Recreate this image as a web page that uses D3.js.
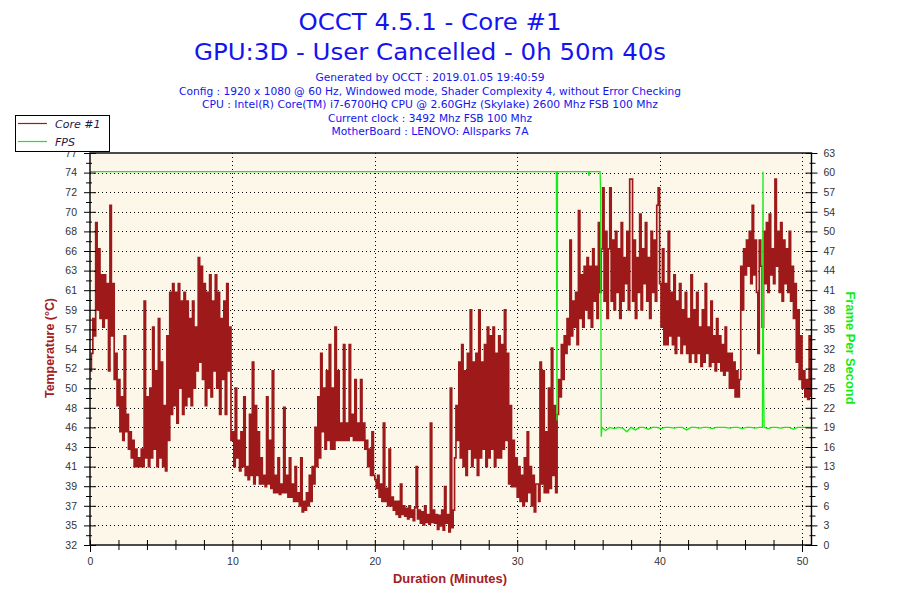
<!DOCTYPE html>
<html>
<head>
<meta charset="utf-8">
<script src="https://cdn.jsdelivr.net/npm/d3@7"></script>
<style>
  body { margin: 0; background: #fff; }
</style>
</head>
<body>
<div id="chart"></div>
<script>
// header text
const titleLines = ['OCCT 4.5.1 - Core #1', 'GPU:3D - User Cancelled - 0h 50m 40s']
const infoLines = [
    'Generated by OCCT : 2019.01.05 19:40:59',
    'Config : 1920 x 1080 @ 60 Hz, Windowed mode, Shader Complexity 4, without Error Checking',
    'CPU : Intel(R) Core(TM) i7-6700HQ CPU @ 2.60GHz (Skylake) 2600 Mhz FSB 100 Mhz',
    'Current clock : 3492 Mhz FSB 100 Mhz',
    'MotherBoard : LENOVO: Allsparks 7A'
]
const legendNames = ['Core #1', 'FPS']

// axes
const tempRange = [32, 77]
const fpsRange = [0, 63]
const testMinutes = 50 + 40 / 60
const tempTickLabels = [32, 35, 37, 39, 41, 43, 46, 48, 50, 52, 54, 57, 59, 61, 63, 66, 68, 70, 72, 74, 77]
const fpsTickLabels = [0, 3, 6, 9, 13, 16, 19, 22, 25, 28, 32, 35, 38, 41, 44, 47, 50, 54, 57, 60, 63]
const minuteTicks = [0, 10, 20, 30, 40, 50]

// Core #1 temperature, one sample every 0.1 minute
const sampleStep = 0.1
const coreTemp = [
    52, 54, 58, 56, 69, 59, 66, 58, 63, 57,
    63, 58, 62, 52, 71, 56, 62, 51, 54, 48,
    51, 45, 49, 44, 56, 45, 47, 43, 45, 42,
    44, 41, 43, 41, 42, 41, 43, 41, 60, 42,
    49, 41, 50, 42, 57, 43, 52, 41, 58, 42,
    53, 41, 48, 40.5, 56, 44, 61, 47, 62, 48,
    61, 46, 62, 50, 60, 47, 61, 48, 60, 49,
    58, 48, 60, 50, 57, 52, 65, 53, 64, 51,
    62, 48, 61, 50, 63, 49, 60, 52, 63, 50,
    61, 47, 58, 51, 60, 47, 62, 52, 57, 44,
    45, 41, 50, 42, 44, 40.5, 45, 41, 49, 40,
    41, 39.5, 47, 40, 53, 39, 48, 40, 45, 39,
    42, 39, 40, 38.7, 49, 39, 44, 38.5, 52, 38,
    40, 38, 42, 37.8, 39, 38, 47.8, 38, 40, 37.5,
    42, 37.5, 39, 37, 41, 37, 38, 36.5, 42, 35.8,
    37, 36, 38, 36.5, 40, 37, 41, 39, 45.5, 41,
    49, 42, 54, 45, 50, 43, 52, 44, 55, 43,
    50, 43, 57, 44, 52, 44, 46, 44, 55, 44,
    46, 44, 55, 44.5, 47, 44, 51, 44, 46, 44,
    51, 44, 46, 43, 44, 41, 43, 40, 45, 40,
    39.5, 38.5, 40, 37.5, 39, 37, 46, 37, 38.5, 36.5,
    43, 36.5, 37.5, 36, 37, 35.5, 37, 35.2, 39, 35.5,
    36.5, 35.3, 36.2, 35, 36.5, 35.2, 36, 34.8, 36.3, 41,
    35, 36, 34.5, 35.8, 34.3, 36.5, 34.6, 35.5, 34.4, 46,
    34.6, 36, 34.5, 35.5, 33.8, 35.4, 34.2, 36, 33.7, 38.7,
    34.5, 35.5, 33.5, 50, 34, 36, 42, 48, 44, 53,
    42, 55, 41, 52, 40, 54, 43, 59, 41, 53,
    42, 54, 40, 59, 42, 53, 43, 55, 41, 57,
    42, 56, 43, 57, 41, 54, 42, 56, 42, 55,
    43, 59, 44, 54, 39, 48, 38.7, 44, 38.7, 42,
    37.5, 41, 37, 40, 36.5, 42, 37, 45, 38, 41,
    36.5, 40, 35.8, 39, 39, 37, 53, 39, 52, 38,
    45, 38, 50, 38.5, 54.6, 40, 48, 38, 47, 51,
    49, 55, 51, 56, 54, 58, 55, 67, 56, 60,
    57, 61, 55, 70.4, 58, 63, 57, 64, 59, 65,
    58, 64, 57, 66, 60, 64, 58, 69, 61, 66,
    73, 60, 68, 58, 66, 73, 60, 67, 59, 68,
    61, 66, 58, 69, 60, 65, 62, 68, 59, 74,
    74, 60, 67, 58, 65, 61, 70, 59, 66, 62,
    69, 60, 65, 58, 68, 61, 67, 60, 71, 73,
    62, 57, 66, 55, 62, 55, 68, 56, 61, 55,
    63, 54, 60, 56, 62, 54, 59, 55, 61, 54,
    58, 53, 63, 54, 59, 53, 61, 54, 57, 52.5,
    59, 53, 62, 54, 57, 52.5, 60, 53, 56, 52,
    58, 53, 56, 52, 55, 51.5, 57, 52, 54, 50,
    54, 50, 53, 49, 52, 49, 51, 64, 59, 66,
    63, 67, 64, 68, 62, 71, 63, 67, 61, 54,
    67, 64, 57, 68, 62, 69, 61, 70, 63, 66,
    62, 74, 64, 68, 61, 69, 60, 67, 62, 66,
    61, 68, 60, 64, 58, 62, 53, 59, 51, 56,
    50, 52, 49, 51, 48.7, 56, 49
]

// FPS samples (minute, frames per second)
const fpsMinutes = [
    0, 32.75, 32.79, 32.83, 35.0, 35.04, 35.08, 35.82, 35.86, 35.9, 35.95,
    36.2, 36.5, 36.8, 37.1, 37.4, 37.7, 38.0, 38.3, 38.6, 38.9,
    39.2, 39.5, 39.8, 40.1, 40.4, 40.7, 41.0, 41.3, 41.6, 41.9,
    42.2, 42.5, 42.8, 43.1, 43.4, 43.7, 44.0, 44.3, 44.6, 44.9,
    45.2, 45.5, 45.8, 46.1, 46.4, 46.7, 47.0,
    47.22, 47.26, 47.3, 47.34,
    47.6, 47.9, 48.2, 48.5, 48.8, 49.1, 49.4, 49.7, 50.0, 50.3, 50.67
]
const fpsValues = [
    60, 60, 20, 60, 60, 59.3, 60, 60, 56.4, 17.4, 18.9,
    18.4, 18.9, 18.7, 18.9, 18.8, 18.2, 18.9, 18.5, 18.9, 18.9,
    18.6, 18.9, 18.9, 18.7, 18.9, 18.9, 18.8, 18.9, 18.9, 18.5,
    18.9, 18.9, 18.8, 18.9, 18.9, 18.7, 18.9, 18.9, 18.9, 18.8,
    18.9, 18.9, 18.7, 18.9, 18.9, 18.8, 18.9,
    18.9, 60, 27, 18.9,
    18.7, 18.9, 18.9, 18.8, 18.9, 18.9, 18.6, 18.9, 18.9, 18.9, 18.9
]

const tempColor = '#9e1a1a'
const fpsColor = '#14ec14'

let OcctChart = function (id) {
    this.id = id
    this.svgWidth = 900
    this.svgHeight = 600
    this.margin = { top: 153, right: 88.5, bottom: 55, left: 90 }
    this.width = this.svgWidth - this.margin.left - this.margin.right
    this.height = this.svgHeight - this.margin.top - this.margin.bottom

    this.svg = d3.select('#' + id).append('svg')
        .attr('width', this.svgWidth)
        .attr('height', this.svgHeight)
        .style('font-family', '"DejaVu Sans", Verdana, sans-serif')

    this.plot = this.svg.append('g')
        .attr('class', 'g_main')
        .attr('transform', 'translate(' + this.margin.left + ', ' + this.margin.top + ')')

    this.x = d3.scaleLinear().domain([0, testMinutes]).range([0, this.width])
    this.yTemp = d3.scaleLinear().domain(tempRange).range([this.height, 0])
    this.yFps = d3.scaleLinear().domain(fpsRange).range([this.height, 0])
}

OcctChart.prototype.drawHeader = function () {
    const cx = 430
    const titleY = [29.5, 59.5]
    const titleLen = [263, 472]
    this.svg.selectAll('text.title').data(titleLines).join('text')
        .attr('class', 'title')
        .attr('x', cx)
        .attr('y', (d, i) => titleY[i])
        .attr('text-anchor', 'middle')
        .attr('textLength', (d, i) => titleLen[i])
        .attr('lengthAdjust', 'spacingAndGlyphs')
        .attr('fill', '#1414f0')
        .style('font-size', '23px')
        .text(d => d)

    const infoLen = [229, 502, 456, 204, 197]
    this.svg.selectAll('text.info').data(infoLines).join('text')
        .attr('class', 'info')
        .attr('x', cx)
        .attr('y', (d, i) => 81 + i * 13.5)
        .attr('text-anchor', 'middle')
        .attr('textLength', (d, i) => infoLen[i])
        .attr('lengthAdjust', 'spacingAndGlyphs')
        .attr('fill', '#1414f0')
        .style('font-size', '11px')
        .text(d => d)
}

OcctChart.prototype.drawFrame = function () {
    this.plot.append('rect')
        .attr('width', this.width)
        .attr('height', this.height)
        .attr('fill', '#fdf7ea')

    const tempTicks = tempTickLabels.map((d, i) => tempRange[0] + i * (tempRange[1] - tempRange[0]) / 20)
    const grid = this.plot.append('g')
        .attr('stroke', '#000')
        .attr('stroke-dasharray', '1,3')
        .attr('shape-rendering', 'crispEdges')

    grid.selectAll('line.h').data(tempTicks.slice(1, -1)).join('line')
        .attr('class', 'h')
        .attr('x1', 0).attr('x2', this.width)
        .attr('y1', d => Math.round(this.yTemp(d)) + 0.5)
        .attr('y2', d => Math.round(this.yTemp(d)) + 0.5)

    grid.selectAll('line.v').data(minuteTicks.slice(1)).join('line')
        .attr('class', 'v')
        .attr('y1', 0).attr('y2', this.height)
        .attr('x1', d => Math.round(this.x(d)) + 0.5)
        .attr('x2', d => Math.round(this.x(d)) + 0.5)

    this.tempTicks = tempTicks
}

OcctChart.prototype.drawAxes = function () {
    const tickStyle = g => {
        g.select('.domain').remove()
        g.selectAll('text')
            .style('font-family', '"Liberation Sans", Arial, sans-serif')
            .style('font-size', '10.5px')
            .attr('fill', '#333')
    }
    const halfStep = (tempRange[1] - tempRange[0]) / 40
    const fpsStep = (fpsRange[1] - fpsRange[0]) / 20

    // left: temperature
    this.plot.append('g')
        .call(d3.axisLeft(this.yTemp).tickValues(this.tempTicks)
            .tickFormat((d, i) => tempTickLabels[i]).tickSize(6).tickPadding(7))
        .call(tickStyle)
        .call(g => g.selectAll('.tick line').attr('x1', 6))
    this.plot.append('g')
        .call(d3.axisLeft(this.yTemp).tickValues(this.tempTicks.slice(0, -1).map(d => d + halfStep))
            .tickFormat('').tickSize(4))
        .call(tickStyle)
        .call(g => g.selectAll('.tick line').attr('x1', 2))

    // right: fps
    const fpsTicks = fpsTickLabels.map((d, i) => i * fpsStep)
    this.plot.append('g')
        .attr('transform', 'translate(' + this.width + ',0)')
        .call(d3.axisRight(this.yFps).tickValues(fpsTicks)
            .tickFormat((d, i) => fpsTickLabels[i]).tickSize(6).tickPadding(6))
        .call(tickStyle)
        .call(g => g.selectAll('.tick line').attr('x1', -6))
    this.plot.append('g')
        .attr('transform', 'translate(' + this.width + ',0)')
        .call(d3.axisRight(this.yFps).tickValues(fpsTicks.slice(0, -1).map(d => d + fpsStep / 2))
            .tickFormat('').tickSize(4))
        .call(tickStyle)
        .call(g => g.selectAll('.tick line').attr('x1', -2))

    // bottom: minutes
    this.plot.append('g')
        .attr('transform', 'translate(0,' + this.height + ')')
        .call(d3.axisBottom(this.x).tickValues(minuteTicks).tickSize(7).tickPadding(6))
        .call(tickStyle)
        .call(g => g.selectAll('.tick line').attr('y1', -5))
    this.plot.append('g')
        .attr('transform', 'translate(0,' + this.height + ')')
        .call(d3.axisBottom(this.x).tickValues(d3.range(2, 51, 2).filter(d => d % 10))
            .tickFormat('').tickSize(5))
        .call(tickStyle)
        .call(g => g.selectAll('.tick line').attr('y1', -5))

    // frame
    this.plot.append('rect')
        .attr('width', this.width)
        .attr('height', this.height)
        .attr('fill', 'none')
        .attr('stroke', '#000')
        .attr('stroke-width', 1.4)

    // axis titles
    this.svg.append('text')
        .attr('transform', 'translate(54,348) rotate(-90)')
        .attr('text-anchor', 'middle')
        .attr('textLength', 100)
        .attr('lengthAdjust', 'spacingAndGlyphs')
        .attr('fill', '#a32020')
        .style('font-family', '"Liberation Sans", Arial, sans-serif')
        .style('font-weight', 'bold')
        .style('font-size', '12px')
        .text('Temperature (°C)')

    this.svg.append('text')
        .attr('transform', 'translate(846,348) rotate(90)')
        .attr('text-anchor', 'middle')
        .attr('textLength', 113)
        .attr('lengthAdjust', 'spacingAndGlyphs')
        .attr('fill', fpsColor)
        .style('font-family', '"Liberation Sans", Arial, sans-serif')
        .style('font-weight', 'bold')
        .style('font-size', '12px')
        .text('Frame Per Second')

    this.svg.append('text')
        .attr('x', 450)
        .attr('y', 583)
        .attr('text-anchor', 'middle')
        .attr('textLength', 114)
        .attr('lengthAdjust', 'spacingAndGlyphs')
        .attr('fill', '#a32020')
        .style('font-family', '"Liberation Sans", Arial, sans-serif')
        .style('font-weight', 'bold')
        .style('font-size', '12px')
        .text('Duration (Minutes)')
}

OcctChart.prototype.drawSeries = function () {
    // samples are held until the next reading, like the OCCT log plot
    const tempLine = d3.line()
        .curve(d3.curveStepAfter)
        .x((d, i) => this.x(i * sampleStep))
        .y(d => this.yTemp(d))
    this.plot.append('path')
        .datum(coreTemp)
        .attr('d', tempLine)
        .attr('fill', 'none')
        .attr('stroke', tempColor)
        .attr('stroke-width', 1.7)

    const fpsLine = d3.line()
        .x(d => this.x(d[0]))
        .y(d => this.yFps(d[1]))
    this.plot.append('path')
        .datum(d3.zip(fpsMinutes, fpsValues))
        .attr('d', fpsLine)
        .attr('fill', 'none')
        .attr('stroke', fpsColor)
        .attr('stroke-width', 1.3)
}

OcctChart.prototype.drawLegend = function () {
    const lg = this.svg.append('g')
    lg.append('rect')
        .attr('x', 15.5).attr('y', 115.5)
        .attr('width', 94).attr('height', 36)
        .attr('fill', '#fff')
        .attr('stroke', '#000')

    const colors = [tempColor, fpsColor]
    const rows = lg.selectAll('g').data(legendNames).join('g')
        .attr('transform', (d, i) => 'translate(0,' + (123.5 + i * 18) + ')')
    rows.append('line')
        .attr('x1', 18).attr('x2', 47)
        .attr('stroke', (d, i) => colors[i])
        .attr('stroke-width', 1.2)
    rows.append('text')
        .attr('x', 55)
        .attr('y', 4)
        .attr('fill', '#1a1a4a')
        .style('font-style', 'italic')
        .style('font-size', '11px')
        .text(d => d)
}

let chart = new OcctChart('chart')
chart.drawHeader()
chart.drawFrame()
chart.drawSeries()
chart.drawAxes()
chart.drawLegend()
</script>
</body>
</html>
